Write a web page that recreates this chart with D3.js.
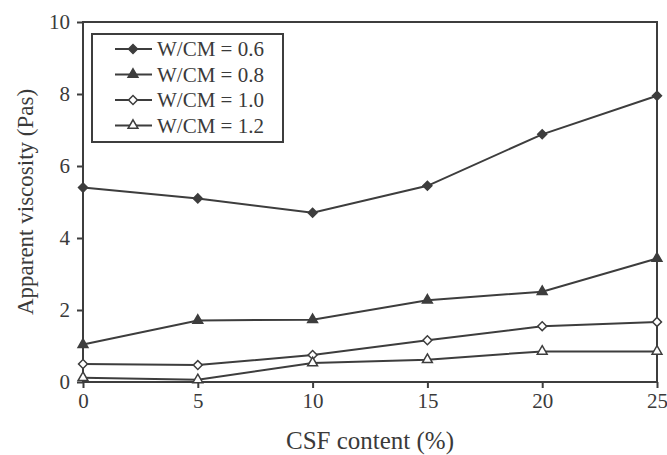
<!DOCTYPE html>
<html>
<head>
<meta charset="utf-8">
<script src="https://cdn.jsdelivr.net/npm/d3@7"></script>
<style>
  body { margin: 0; background: #fff; }
  text { font-family: "Liberation Serif", "DejaVu Serif", serif; fill: #3a3a3a; }
</style>
</head>
<body>
<script>
var csf = [0, 5, 10, 15, 20, 25];
var wcm06 = [5.4, 5.1, 4.7, 5.45, 6.88, 7.95];
var wcm08 = [1.04, 1.71, 1.73, 2.27, 2.51, 3.43];
var wcm10 = [0.5, 0.47, 0.75, 1.16, 1.55, 1.67];
var wcm12 = [0.12, 0.06, 0.53, 0.62, 0.85, 0.85];
var seriesNames = ['W/CM = 0.6', 'W/CM = 0.8', 'W/CM = 1.0', 'W/CM = 1.2'];
var xTicks = [0, 5, 10, 15, 20, 25];
var yTicks = [0, 2, 4, 6, 8, 10];

var w = 667, h = 455;
var plotL = 83, plotR = 657, plotT = 22, plotB = 382;
var ink = '#3d3d3d';

var series = [
  { name: seriesNames[0], values: wcm06, shape: 'diamond', fill: ink },
  { name: seriesNames[1], values: wcm08, shape: 'triangle', fill: ink },
  { name: seriesNames[2], values: wcm10, shape: 'diamond', fill: '#fff' },
  { name: seriesNames[3], values: wcm12, shape: 'triangle', fill: '#fff' }
];

var svg = d3.select('body').append('svg')
  .attr('width', w)
  .attr('height', h);

var x = d3.scaleLinear().domain([0, 25]).range([plotL, plotR]);
var y = d3.scaleLinear().domain([0, 10]).range([plotB, plotT]);

// frame
svg.append('rect')
  .attr('x', plotL).attr('y', plotT)
  .attr('width', plotR - plotL).attr('height', plotB - plotT)
  .attr('fill', 'none').attr('stroke', ink).attr('stroke-width', 2);

var xAxis = svg.append('g')
  .attr('transform', 'translate(0,' + plotB + ')')
  .call(d3.axisBottom(x).tickValues(xTicks).tickSize(6).tickPadding(5));
var yAxis = svg.append('g')
  .attr('transform', 'translate(' + plotL + ',0)')
  .call(d3.axisLeft(y).tickValues(yTicks).tickSize(6).tickPadding(7));

[xAxis, yAxis].forEach(function(a) {
  a.select('.domain').remove();
  a.selectAll('line').attr('stroke', ink).attr('stroke-width', 2);
  a.selectAll('text')
    .style('font-family', '"Liberation Serif", serif')
    .style('font-size', '21px')
    .attr('fill', '#3a3a3a');
});

svg.append('text')
  .attr('x', (plotL + plotR) / 2)
  .attr('y', 449)
  .attr('text-anchor', 'middle')
  .style('font-size', '25px')
  .text('CSF content (%)');

svg.append('text')
  .attr('transform', 'translate(33,' + ((plotT + plotB) / 2) + ') rotate(-90)')
  .attr('text-anchor', 'middle')
  .style('font-size', '23px')
  .text('Apparent viscosity (Pas)');

var line = d3.line()
  .x(function(d, i) { return x(csf[i]); })
  .y(function(d) { return y(d); });

// diamond = square turned 45 degrees
function symbolFor(shape) {
  return shape === 'diamond'
    ? d3.symbol().type(d3.symbolSquare).size(40)
    : d3.symbol().type(d3.symbolTriangle).size(42);
}
function rot(shape) { return shape === 'diamond' ? ' rotate(45)' : ''; }

series.forEach(function(s) {
  svg.append('path')
    .datum(s.values)
    .attr('d', line)
    .attr('fill', 'none')
    .attr('stroke', ink)
    .attr('stroke-width', 2);

  svg.selectAll(null)
    .data(s.values)
    .enter()
    .append('path')
      .attr('d', symbolFor(s.shape))
      .attr('transform', function(d, i) { return 'translate(' + x(csf[i]) + ',' + y(d) + ')' + rot(s.shape); })
      .attr('fill', s.fill)
      .attr('stroke', ink)
      .attr('stroke-width', 1.5);
});

// legend
var legend = svg.append('g');
legend.append('rect')
  .attr('x', 92).attr('y', 34)
  .attr('width', 191).attr('height', 108)
  .attr('fill', '#fff').attr('stroke', ink).attr('stroke-width', 2);

var rows = legend.selectAll('.row')
  .data(series)
  .enter()
  .append('g')
    .attr('transform', function(d, i) { return 'translate(0,' + (49 + i * 25.5) + ')'; });

rows.append('line')
  .attr('x1', 115).attr('x2', 152)
  .attr('stroke', ink).attr('stroke-width', 2);
rows.append('path')
  .attr('d', function(d) { return symbolFor(d.shape)(); })
  .attr('transform', function(d) { return 'translate(133,0)' + rot(d.shape); })
  .attr('fill', function(d) { return d.fill; })
  .attr('stroke', ink)
  .attr('stroke-width', 1.5);
rows.append('text')
  .attr('x', 157)
  .attr('y', 7)
  .style('font-size', '21px')
  .text(function(d) { return d.name; });
</script>
</body>
</html>
